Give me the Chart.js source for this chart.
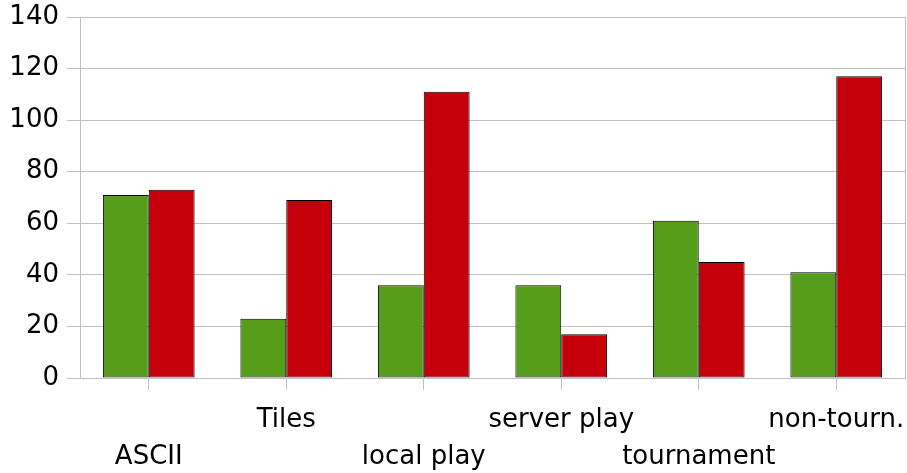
<!DOCTYPE html>
<html>
<head>
<meta charset="utf-8">
<script src="https://cdn.jsdelivr.net/npm/chart.js@4/dist/chart.umd.min.js"></script>
<style>
  html, body { margin: 0; padding: 0; background: #fff; }
  #wrap { width: 907px; height: 473px; }
</style>
</head>
<body>
<div id="wrap"><canvas id="chart"></canvas></div>
<script>
// categories, shown on two alternating label rows
const categories = ["ASCII", "Tiles", "local play", "server play", "tournament", "non-tourn."];
const greenValues = [71, 23, 36, 36, 61, 41];
const redValues = [73, 69, 111, 17, 45, 117];
const yTicks = [0, 20, 40, 60, 80, 100, 120, 140];

// odd categories go on the upper row, even ones on the lower row
const labels = categories.map((c, i) => (i % 2 === 0 ? ["", c] : [c, ""]));

const gridColor = "#c0c0c0";

new Chart(document.getElementById("chart"), {
  type: "bar",
  data: {
    labels: labels,
    datasets: [
      {
        data: greenValues,
        backgroundColor: "#579d1c",
        borderColor: "#000",
        borderWidth: 1,
        borderSkipped: false,
        categoryPercentage: 0.667,
        barPercentage: 1,
      },
      {
        data: redValues,
        backgroundColor: "#c5000b",
        borderColor: "#000",
        borderWidth: 1,
        borderSkipped: false,
        categoryPercentage: 0.667,
        barPercentage: 1,
      },
    ],
  },
  options: {
    responsive: true,
    maintainAspectRatio: false,
    animation: false,
    layout: { padding: { top: 17, right: 1, left: 0, bottom: 0 } },
    plugins: {
      legend: { display: false },
      tooltip: { enabled: false },
    },
    scales: {
      x: {
        grid: {
          drawOnChartArea: false,
          offset: false,
          color: gridColor,
          tickLength: 12,
        },
        border: { color: gridColor },
        ticks: {
          color: "#000",
          maxRotation: 0,
          autoSkip: false,
          padding: 12,
          font: { family: "DejaVu Sans", size: 26, lineHeight: 1.42 },
        },
        afterFit: (scale) => {
          scale.height = 95;
          scale.paddingLeft = 0;
          scale.paddingRight = 0;
        },
      },
      y: {
        min: 0,
        max: 140,
        afterBuildTicks: (scale) => {
          scale.ticks = yTicks.map((v) => ({ value: v }));
        },
        grid: { color: gridColor, tickLength: 13 },
        border: { color: gridColor },
        ticks: {
          color: "#000",
          padding: 8,
          font: { family: "DejaVu Sans", size: 26 },
        },
        afterFit: (scale) => {
          scale.width = 80;
          scale.paddingTop = 0;
          scale.paddingBottom = 0;
        },
      },
      // right frame line only
      yRight: {
        position: "right",
        min: 0,
        max: 140,
        grid: { drawOnChartArea: false, drawTicks: false },
        border: { color: gridColor },
        ticks: { display: false },
        afterFit: (scale) => {
          scale.width = 1;
          scale.paddingTop = 0;
          scale.paddingBottom = 0;
        },
      },
    },
  },
});
</script>
</body>
</html>
